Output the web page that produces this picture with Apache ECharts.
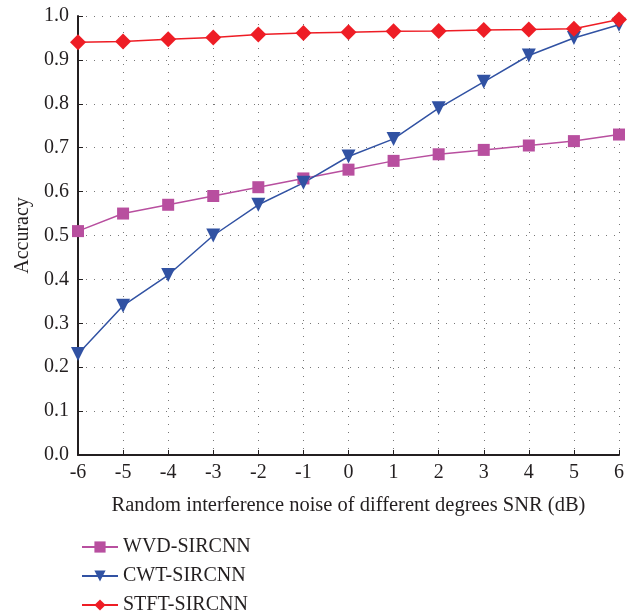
<!DOCTYPE html>
<html><head><meta charset="utf-8">
<script src="https://cdn.jsdelivr.net/npm/echarts@6/dist/echarts.min.js"></script>
<style>html,body{margin:0;padding:0;background:#fff}#c{width:627px;height:616px}</style>
</head><body><div id="c"></div>
<script>
const snr = [-6,-5,-4,-3,-2,-1,0,1,2,3,4,5,6];
const wvd = [0.51,0.55,0.57,0.59,0.61,0.63,0.65,0.67,0.685,0.695,0.705,0.715,0.73];
const cwt = [0.23,0.34,0.41,0.50,0.57,0.62,0.68,0.72,0.79,0.85,0.91,0.95,0.98];
const stft = [0.94,0.942,0.947,0.951,0.958,0.961,0.963,0.965,0.966,0.968,0.969,0.971,0.992];
const names = ['WVD-SIRCNN','CWT-SIRCNN','STFT-SIRCNN'];
const font = 'Liberation Serif';
const pair = a => snr.map((x,i)=>[x,a[i]]);
const chart = echarts.init(document.getElementById('c'));
const mk = (name, data, color, symbol, size, rot) => ({
  name, type:'line', data: pair(data), symbol, symbolSize: size, symbolRotate: rot,
  lineStyle:{color, width:1.5}, itemStyle:{color}, z: 3
});
chart.setOption({
  animation:false,
  grid:{left:78, right:5, top:16, bottom:161},
  legend:{
    orient:'vertical', left:76, top:532, height:85, itemWidth:36, itemHeight:14, itemGap:9,
    textStyle:{fontFamily:font, fontSize:20, color:'#231f20'},
    data: names
  },
  xAxis:{
    type:'value', min:-6, max:6, interval:1,
    name:'Random interference noise of different degrees SNR (dB)',
    nameLocation:'middle', nameGap:40,
    nameTextStyle:{fontFamily:font, fontSize:20.5, color:'#231f20'},
    axisLine:{onZero:false, lineStyle:{color:'#231f20', width:2}},
    axisTick:{inside:true, length:5, lineStyle:{color:'#231f20'}},
    axisLabel:{fontFamily:font, fontSize:20, color:'#231f20', margin:8},
    splitLine:{show:true, lineStyle:{color:'#777', type:[1,7], width:1}}
  },
  yAxis:{
    type:'value', min:0, max:1, interval:0.1,
    name:'Accuracy', nameLocation:'middle', nameGap:45,
    nameTextStyle:{fontFamily:font, fontSize:20, color:'#231f20'},
    axisLine:{show:true, onZero:false, lineStyle:{color:'#231f20', width:2}},
    axisTick:{show:true, inside:true, length:5, lineStyle:{color:'#231f20'}},
    axisLabel:{fontFamily:font, fontSize:20, color:'#231f20', margin:9,
      formatter:v=>v.toFixed(1)},
    splitLine:{show:true, lineStyle:{color:'#777', type:[1,7], width:1}}
  },
  series:[
    mk(names[0], wvd, '#b84f9f', 'rect', 12, 0),
    mk(names[1], cwt, '#3152a3', 'triangle', 14, 180),
    mk(names[2], stft, '#ee1d25', 'diamond', 16, 0)
  ]
});
</script></body></html>
